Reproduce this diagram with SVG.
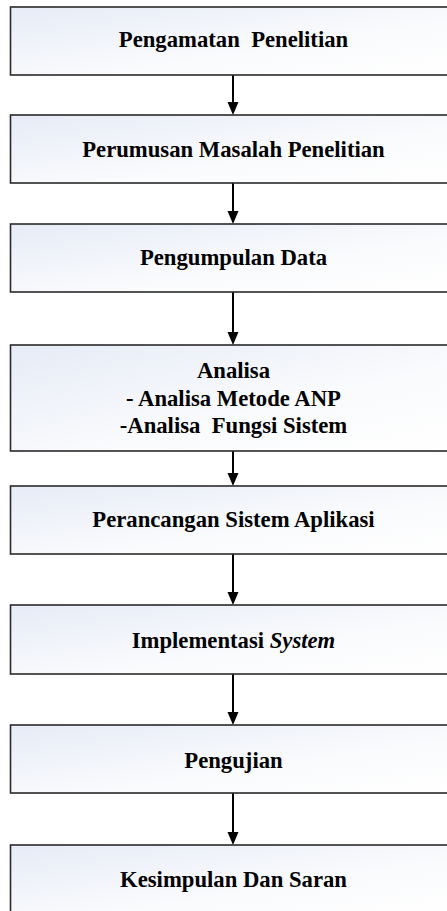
<svg xmlns="http://www.w3.org/2000/svg" width="447" height="911" viewBox="0 0 447 911">
  <defs>
    <linearGradient id="boxFill" x1="0" y1="0" x2="1" y2="1">
      <stop offset="0" stop-color="#e6ebf6"/>
      <stop offset="0.6" stop-color="#fafbfd"/>
      <stop offset="1" stop-color="#ffffff"/>
    </linearGradient>
    <marker id="arrow" markerUnits="userSpaceOnUse" markerWidth="14" markerHeight="12" refX="7" refY="6" orient="auto">
      <path d="M0,0.5 L13,6 L0,11.5 z" fill="#000"/>
    </marker>
    <style>
      .box { fill: url(#boxFill); stroke: #2a2a2a; stroke-width: 1.6; }
      .lbl { font-family: "Liberation Serif", "Times New Roman", serif; font-weight: bold; font-size: 22.7px; fill: #000; text-anchor: middle; }
      .conn { stroke: #000; stroke-width: 2; fill: none; marker-end: url(#arrow); }
    </style>
  </defs>
  <rect width="447" height="911" fill="#ffffff"/>

  <g id="connectors">
    <line class="conn" x1="233" y1="75" x2="233" y2="109"/>
    <line class="conn" x1="233" y1="183" x2="233" y2="218"/>
    <line class="conn" x1="233" y1="292" x2="233" y2="339"/>
    <line class="conn" x1="233" y1="451" x2="233" y2="480"/>
    <line class="conn" x1="233" y1="554" x2="233" y2="599"/>
    <line class="conn" x1="233" y1="674" x2="233" y2="719"/>
    <line class="conn" x1="233" y1="793" x2="233" y2="839"/>
  </g>

  <g id="node-pengamatan">
    <rect class="box" x="10.5" y="7" width="446" height="68"/>
    <text class="lbl" x="233.5" y="47.3" xml:space="preserve">Pengamatan  Penelitian</text>
  </g>

  <g id="node-perumusan">
    <rect class="box" x="10.5" y="115" width="446" height="68"/>
    <text class="lbl" x="233.5" y="156.5">Perumusan Masalah Penelitian</text>
  </g>

  <g id="node-pengumpulan">
    <rect class="box" x="10.5" y="224" width="446" height="68"/>
    <text class="lbl" x="233.5" y="265">Pengumpulan Data</text>
  </g>

  <g id="node-analisa">
    <rect class="box" x="10.5" y="345" width="446" height="106"/>
    <text class="lbl" x="233.5" y="378">Analisa</text>
    <text class="lbl" x="233.5" y="406">- Analisa Metode ANP</text>
    <text class="lbl" x="233.5" y="432.5" xml:space="preserve">-Analisa  Fungsi Sistem</text>
  </g>

  <g id="node-perancangan">
    <rect class="box" x="10.5" y="486" width="446" height="68"/>
    <text class="lbl" x="233.5" y="527">Perancangan Sistem Aplikasi</text>
  </g>

  <g id="node-implementasi">
    <rect class="box" x="10.5" y="605" width="446" height="69"/>
    <text class="lbl" x="233.5" y="648">Implementasi <tspan font-style="italic">System</tspan></text>
  </g>

  <g id="node-pengujian">
    <rect class="box" x="10.5" y="725" width="446" height="68"/>
    <text class="lbl" x="233.5" y="768">Pengujian</text>
  </g>

  <g id="node-kesimpulan">
    <rect class="box" x="10.5" y="845" width="446" height="70"/>
    <text class="lbl" x="233.5" y="887">Kesimpulan Dan Saran</text>
  </g>
</svg>
